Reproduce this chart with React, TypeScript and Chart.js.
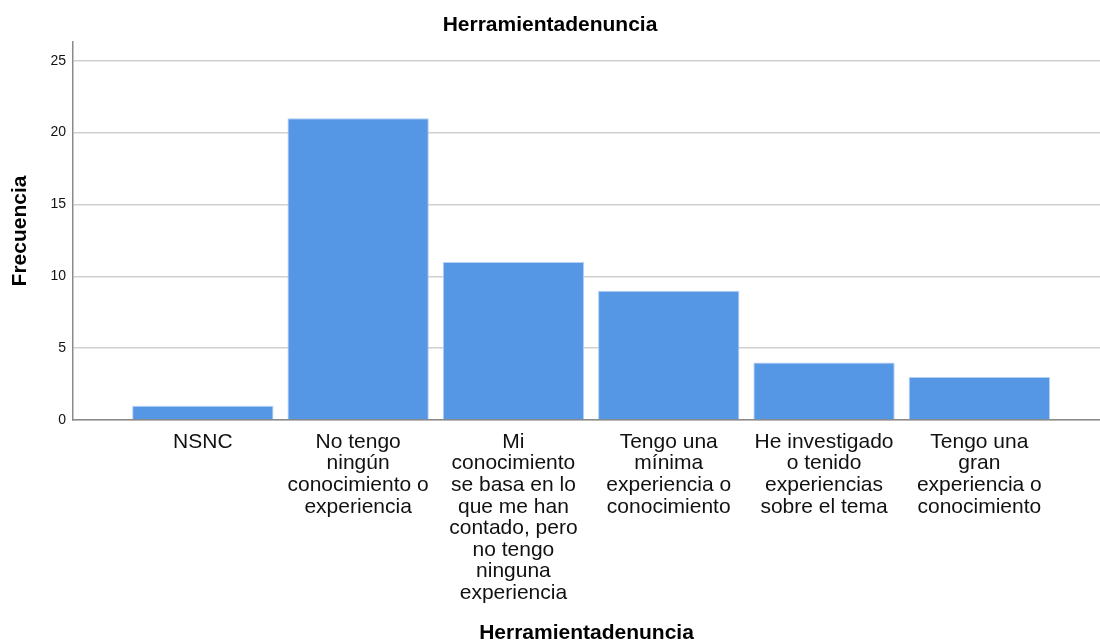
import React, { useEffect, useRef } from "react";
import { Chart, registerables } from "chart.js";

Chart.register(...registerables);

const categories: string[][] = [
  ["NSNC"],
  ["No tengo", "ningún", "conocimiento o", "experiencia"],
  ["Mi", "conocimiento", "se basa en lo", "que me han", "contado, pero", "no tengo", "ninguna", "experiencia"],
  ["Tengo una", "mínima", "experiencia o", "conocimiento"],
  ["He investigado", "o tenido", "experiencias", "sobre el tema"],
  ["Tengo una", "gran", "experiencia o", "conocimiento"],
];
const frecuencia: number[] = [1, 21, 11, 9, 4, 3];
const yTicks: number[] = [0, 5, 10, 15, 20, 25];
const chartTitle = "Herramientadenuncia";
const xTitle = "Herramientadenuncia";
const yTitle = "Frecuencia";

const FONT = "'Liberation Sans', Arial, sans-serif";

export default function App() {
  const ref = useRef<HTMLCanvasElement | null>(null);

  useEffect(() => {
    if (!ref.current) return;
    const chart = new Chart(ref.current, {
      type: "bar",
      data: {
        datasets: [
          {
            label: yTitle,
            data: frecuencia.map((v, i) => ({ x: i, y: v })),
            backgroundColor: "#5596E5",
            borderColor: "#B3CFF2",
            borderWidth: 1,
            barPercentage: 0.91,
            categoryPercentage: 1,
          },
        ],
      },
      options: {
        animation: false,
        responsive: false,
        maintainAspectRatio: false,
        layout: { padding: 0 },
        plugins: {
          legend: { display: false },
          tooltip: { enabled: false },
          title: {
            display: true,
            text: chartTitle,
            color: "#000",
            font: { family: FONT, size: 21, weight: "bold" },
            padding: { top: 12.4, bottom: 4.4 },
          },
        },
        scales: {
          x: {
            type: "linear",
            offset: false,
            min: -0.836,
            max: 5.777,
            afterBuildTicks: (scale: any) => {
              scale.ticks = categories.map((_, i) => ({ value: i }));
            },
            afterFit: (scale: any) => {
              scale.height = 224;
            },
            grid: { display: false, drawTicks: false, offset: false },
            border: { display: true, color: "#8a8a8a", width: 1.5 },
            ticks: {
              autoSkip: false,
              maxRotation: 0,
              minRotation: 0,
              padding: 11,
              color: "#111",
              font: { family: FONT, size: 21, lineHeight: 1.03 },
              callback: (value: any) => categories[Math.round(Number(value))] ?? "",
            },
            title: {
              display: true,
              text: xTitle,
              color: "#000",
              font: { family: FONT, size: 21, weight: "bold", lineHeight: 1.0 },
              padding: { top: 4, bottom: 0 },
            },
          },
          y: {
            min: 0,
            max: 26.3,
            afterBuildTicks: (scale: any) => {
              scale.ticks = yTicks.map((v) => ({ value: v }));
            },
            afterFit: (scale: any) => {
              scale.width = 73;
            },
            grid: { color: "#d0d0d0", lineWidth: 1.5, drawTicks: false },
            border: { display: true, color: "#8a8a8a", width: 1.5 },
            ticks: {
              includeBounds: false,
              padding: 7,
              color: "#111",
              font: { family: FONT, size: 14 },
            },
            title: {
              display: true,
              text: yTitle,
              color: "#000",
              font: { family: FONT, size: 21, weight: "bold" },
              padding: { top: 7.4, bottom: 0 },
            },
          },
        },
      } as any,
    });
    return () => chart.destroy();
  }, []);

  return (
    <div style={{ position: "fixed", left: 0, top: 0, width: 1100, height: 644, background: "#fff" }}>
      <canvas ref={ref} width={1100} height={644} style={{ width: 1100, height: 644 }} />
    </div>
  );
}
